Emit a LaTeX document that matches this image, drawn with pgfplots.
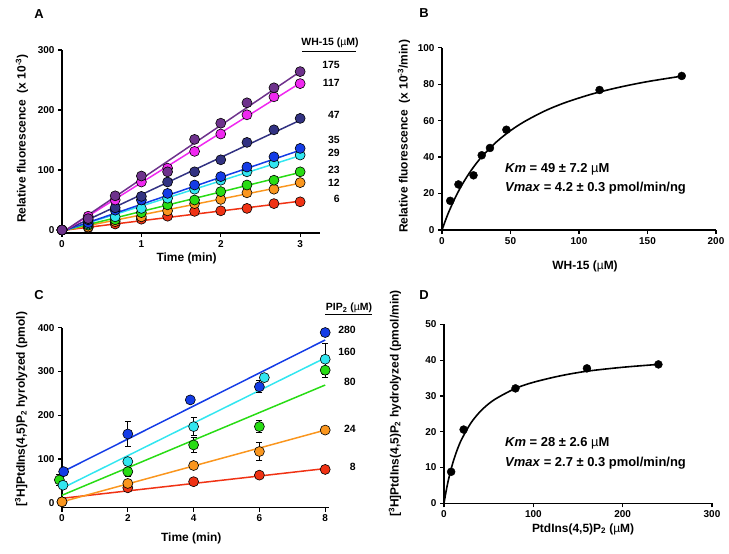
\documentclass[border=0pt]{standalone}
\usepackage{pgfplots}
\pgfplotsset{compat=1.18}
\usepackage{fontspec}
\setmainfont{Liberation Sans}

\definecolor{cpurple}{RGB}{110,50,140}
\definecolor{cmagenta}{RGB}{240,40,240}
\definecolor{cnavy}{RGB}{50,50,130}
\definecolor{cblue}{RGB}{20,60,230}
\definecolor{ccyan}{RGB}{50,230,240}
\definecolor{cgreen}{RGB}{40,220,20}
\definecolor{corange}{RGB}{250,150,30}
\definecolor{cred}{RGB}{240,50,20}

\pgfplotsset{
  prism/.style={
    scale only axis, axis lines=left,
    axis line style={line width=1.6bp, -},
    every tick/.style={line width=1.2bp, black},
    tick align=outside, major tick length=4bp,
    ticklabel style={font=\fontsize{10}{12}\selectfont\bfseries},
    /pgf/number format/assume math mode=true,
    label style={font=\fontsize{12}{14}\selectfont\bfseries},
    clip=false, anchor=south west,
  },
  fitline/.style={#1, line width=1.5bp, no marks},
  dots/.style={only marks, mark=*, mark size=5bp,
    mark options={fill=#1, draw=black, line width=0.6bp}},
  bdots/.style={only marks, mark=*, mark size=4bp,
    mark options={fill=black, draw=black}},
  ebars/.style={error bars/.cd, y dir=both, y explicit,
    error bar style={black, line width=0.8bp},
    error mark options={rotate=90, mark size=3bp, black, line width=0.8bp}},
}

\begin{document}
\begin{tikzpicture}
\useasboundingbox (0,0) rectangle (729bp,-554bp);

%% ---------------- Panel A ----------------
\begin{axis}[prism, at={(62bp,-233bp)}, width=258bp, height=183bp,
  xmin=0, xmax=3.25, ymin=-5, ymax=300,
  xtick={0,1,2,3}, ytick={0,100,200,300},
  xlabel={Time (min)}, ylabel={Relative fluorescence \ (x 10\textsuperscript{-3})},
  xlabel style={at={(axis description cs:0.483,-0.137)}, anchor=center},
  ylabel style={at={(axis description cs:-0.155,0.516)}, anchor=center},
]
\addplot[fitline=cred] coordinates {(0.05,0) (3,48)};
\addplot[fitline=corange] coordinates {(0.05,0) (3,78)};
\addplot[fitline=cgreen] coordinates {(0.05,0) (3,96)};
\addplot[fitline=ccyan] coordinates {(0.05,0) (3,124)};
\addplot[fitline=cblue] coordinates {(0.05,0) (3,133)};
\addplot[fitline=cnavy] coordinates {(0.05,0) (3,183)};
\addplot[fitline=cmagenta] coordinates {(0.05,0) (3,245)};
\addplot[fitline=cpurple] coordinates {(0.05,0) (3,264)};
% 6 uM
\addplot[dots=cred] coordinates {(0,0) (0.33,4) (0.67,10) (1,18) (1.33,23) (1.67,31) (2,32) (2.33,36) (2.67,44) (3,47)};
% 12 uM
\addplot[dots=corange] coordinates {(0,0) (0.33,5) (0.67,14) (1,22) (1.33,32) (1.67,44) (2,51) (2.33,62) (2.67,68) (3,79)};
% 23 uM
\addplot[dots=cgreen] coordinates {(0,0) (0.33,8) (0.67,17) (1,29) (1.33,42) (1.67,50) (2,64) (2.33,75) (2.67,83) (3,97)};
% 29 uM
\addplot[dots=ccyan] coordinates {(0,0) (0.33,10) (0.67,22) (1,36) (1.33,53) (1.67,68) (2,83) (2.33,97) (2.67,111) (3,125)};
% 35 uM
\addplot[dots=cblue] coordinates {(0,0) (0.33,12) (0.67,33) (1,50) (1.33,61) (1.67,75) (2,89) (2.33,105) (2.67,122) (3,136)};
% 47 uM
\addplot[dots=cnavy] coordinates {(0,0) (0.33,17) (0.67,37) (1,56) (1.33,80) (1.67,97) (2,117) (2.33,146) (2.67,167) (3,186)};
% 117 uM
\addplot[dots=cmagenta] coordinates {(0,0) (0.33,23) (0.67,50) (1,80) (1.33,103) (1.67,131) (2,160) (2.33,192) (2.67,222) (3,244)};
% 175 uM
\addplot[dots=cpurple] coordinates {(0,0) (0.33,19) (0.67,57) (1,90) (1.33,97) (1.67,151) (2,178) (2.33,212) (2.67,237) (3,264)};
\end{axis}

%% ---------------- Panel B ----------------
\begin{axis}[prism, at={(442bp,-230bp)}, width=274bp, height=182.3bp,
  xmin=0, xmax=200, ymin=0, ymax=100,
  xtick={0,50,100,150,200}, ytick={0,20,40,60,80,100},
  xlabel={WH-15 ({\mdseries µ}M)},
  ylabel={Relative fluorescence \ (x 10\textsuperscript{-3}/min)},
  xlabel style={at={(axis description cs:0.522,-0.197)}, anchor=center},
  ylabel style={at={(axis description cs:-0.139,0.513)}, anchor=center},
]
\addplot[black, line width=1.6bp, smooth, no marks] coordinates {
 (0,0) (2,4.2) (5,10.0) (10,18.3) (15,25.3) (20,31.3) (25,36.5) (30,41.0)
 (40,48.5) (50,54.5) (60,59.4) (75,65.3) (90,69.9) (110,74.7) (130,78.4)
 (150,81.4) (175,84.4)};
\addplot[bdots] coordinates {(6,16) (12,25) (23,30) (29,41) (35,45) (47,55) (115,76.8) (175,84.5)};
\end{axis}

%% ---------------- Panel C ----------------
\begin{axis}[prism, at={(62bp,-507.5bp)}, width=266.5bp, height=179.8bp,
  xmin=0, xmax=8.1, ymin=-11, ymax=400,
  xtick={0,2,4,6,8}, ytick={0,100,200,300,400},
  xlabel={Time (min)},
  ylabel={[\textsuperscript{3}H]PtdIns(4,5)P\textsubscript{2} hyrolyzed (pmol)},
  xlabel style={at={(axis description cs:0.485,-0.173)}, anchor=center},
  ylabel style={at={(axis description cs:-0.153,0.547)}, anchor=center},
]
\addplot[fitline=cred] coordinates {(0,10) (8,78)};
\addplot[fitline=corange] coordinates {(0,2) (8,166)};
\addplot[fitline=cgreen] coordinates {(0,17) (8,269)};
\addplot[fitline=ccyan] coordinates {(0,33) (8,331)};
\addplot[fitline=cblue] coordinates {(0,70) (8,372)};
% 8 uM
\addplot[dots=cred, ebars] coordinates {(0,2) +- (0,0) (2,34) +- (0,4) (4,48) +- (0,4) (6,63) +- (0,4) (8,76) +- (0,0)};
% 24 uM
\addplot[dots=corange, ebars] coordinates {(0,2) +- (0,0) (2,44) +- (0,8) (4,85) +- (0,4) (6,117) +- (0,20) (8,166) +- (0,0)};
% 80 uM
\addplot[dots=cgreen, ebars] coordinates {(-0.08,52) +- (0,12) (2,71) +- (0,10) (4,132) +- (0,17) (6,174) +- (0,14) (8,303) +- (0,17)};
% 160 uM
\addplot[dots=ccyan, ebars] coordinates {(0.03,40) +- (0,8) (2,94) +- (0,8) (4,174) +- (0,20) (6.15,286) +- (0,0) (8,328) +- (0,35)};
% 280 uM
\addplot[dots=cblue, ebars] coordinates {(0.05,71) +- (0,0) (2,157) +- (0,28) (3.9,235) +- (0,0) (6,265) +- (0,14) (8,389) +- (0,0)};
\end{axis}

%% ---------------- Panel D ----------------
\begin{axis}[prism, at={(444bp,-503.3bp)}, width=268bp, height=179bp,
  xmin=0, xmax=300, ymin=0, ymax=50,
  xtick={0,100,200,300}, ytick={0,10,20,30,40,50},
  xlabel={PtdIns(4,5)P\textsubscript{2} ({\mdseries µ}M)},
  ylabel={[\textsuperscript{3}H]PtdIns(4,5)P\textsubscript{2} hydrolyzed (pmol/min)},
  xlabel style={at={(axis description cs:0.519,-0.144)}, anchor=center},
  ylabel style={at={(axis description cs:-0.183,0.558)}, anchor=center},
]
\addplot[black, line width=1.6bp, smooth, no marks] coordinates {
 (0,0) (2,2.9) (5,6.6) (10,11.4) (15,15.1) (20,18.0) (30,22.4) (40,25.5)
 (50,27.8) (60,29.5) (80,32.1) (100,33.8) (130,35.6) (160,36.9) (200,38.0) (240,38.8)};
\addplot[bdots] coordinates {(8,8.8) (22,20.6) (80,32.1) (160,37.7) (240,38.8)};
\end{axis}

%% ---------------- Annotations ----------------
\begin{scope}[every node/.style={font=\fontsize{13}{15}\selectfont\bfseries}]
\node at (39bp,-14bp) {A};
\node at (424bp,-13bp) {B};
\node at (39bp,-295bp) {C};
\node at (424bp,-295bp) {D};
\end{scope}

\begin{scope}[every node/.style={font=\fontsize{10.5}{12}\selectfont\bfseries, inner sep=0pt}]
\node at (330bp,-43bp) {WH-15 ({\mdseries µ}M)};
\draw[line width=1bp] (302bp,-51bp) -- (356bp,-51bp);
\node[anchor=east] at (340bp,-65bp) {175};
\node[anchor=east] at (340bp,-83bp) {117};
\node[anchor=east] at (340bp,-115bp) {47};
\node[anchor=east] at (340bp,-140bp) {35};
\node[anchor=east] at (340bp,-153bp) {29};
\node[anchor=east] at (340bp,-170bp) {23};
\node[anchor=east] at (340bp,-183bp) {12};
\node[anchor=east] at (340bp,-199bp) {6};

\node at (349bp,-308bp) {PIP\textsubscript{2} ({\mdseries µ}M)};
\draw[line width=1bp] (325bp,-314bp) -- (372bp,-314bp);
\node[anchor=east] at (356bp,-330bp) {280};
\node[anchor=east] at (356bp,-352bp) {160};
\node[anchor=east] at (356bp,-382bp) {80};
\node[anchor=east] at (356bp,-429bp) {24};
\node[anchor=east] at (356bp,-467bp) {8};
\end{scope}

\begin{scope}[every node/.style={font=\fontsize{13}{15}\selectfont\bfseries, anchor=west, inner sep=0pt}]
\node at (505bp,-169bp) {\textit{Km} = 49 ± 7.2 {\mdseries µ}M};
\node at (505bp,-188bp) {\textit{Vmax} = 4.2 ± 0.3 pmol/min/ng};
\node at (505bp,-443bp) {\textit{Km} = 28 ± 2.6 {\mdseries µ}M};
\node at (505bp,-463bp) {\textit{Vmax} = 2.7 ± 0.3 pmol/min/ng};
\end{scope}
\end{tikzpicture}
\end{document}
